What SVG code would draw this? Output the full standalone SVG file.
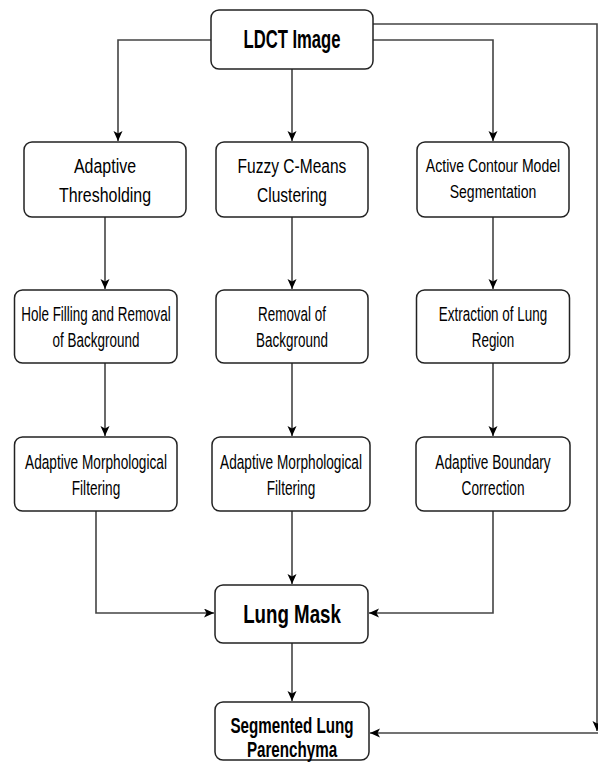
<svg xmlns="http://www.w3.org/2000/svg" width="598" height="762" viewBox="0 0 598 762">
<style>
.box{fill:#fff;stroke:#222;stroke-width:1.5}
.t{font-family:"Liberation Sans",Arial,sans-serif;text-anchor:middle;fill:#000}
.r1{font-size:21px}
.r2{font-size:19.5px}
.b{font-weight:bold}
.c{fill:none;stroke:#444;stroke-width:1.6}
</style>
<defs>
<marker id="ah" markerUnits="userSpaceOnUse" markerWidth="11" markerHeight="10" refX="10" refY="4.5" orient="auto">
<path d="M0,0 L10,4.5 L0,9 L2.5,4.5 z" fill="#000"/>
</marker>
</defs>
<g id="connectors">
<path class="c" d="M211,40 H118 V141" marker-end="url(#ah)"/>
<path class="c" d="M292,69 V141" marker-end="url(#ah)"/>
<path class="c" d="M373,40 H493 V141" marker-end="url(#ah)"/>
<path class="c" d="M373,24 H597 V731" marker-end="url(#ah)"/>
<path class="c" d="M598,733 H370" marker-end="url(#ah)"/>
<path class="c" d="M105,217 V289" marker-end="url(#ah)"/>
<path class="c" d="M105,363 V436" marker-end="url(#ah)"/>
<path class="c" d="M96,511 V613 H214" marker-end="url(#ah)"/>
<path class="c" d="M292,217 V289" marker-end="url(#ah)"/>
<path class="c" d="M292,363 V436" marker-end="url(#ah)"/>
<path class="c" d="M292,511 V584" marker-end="url(#ah)"/>
<path class="c" d="M493,217 V289" marker-end="url(#ah)"/>
<path class="c" d="M493,363 V436" marker-end="url(#ah)"/>
<path class="c" d="M493,511 V613 H369" marker-end="url(#ah)"/>
<path class="c" d="M292,643 V701" marker-end="url(#ah)"/>
</g>
<g id="ldct">
<rect class="box" x="211" y="10" width="162" height="59" rx="8"/>
<text class="t b" font-size="26" transform="translate(292,48) scale(0.64,1)">LDCT Image</text>
</g>
<g id="adaptive-thresholding">
<rect class="box" x="24" y="142" width="162" height="75" rx="8"/>
<text class="t r1" transform="translate(105,173) scale(0.76,1)">Adaptive</text>
<text class="t r1" transform="translate(105,202) scale(0.76,1)">Thresholding</text>
</g>
<g id="fuzzy-c-means">
<rect class="box" x="216" y="142" width="152" height="75" rx="8"/>
<text class="t r1" transform="translate(292,173) scale(0.74,1)">Fuzzy C-Means</text>
<text class="t r1" transform="translate(292,202) scale(0.74,1)">Clustering</text>
</g>
<g id="active-contour">
<rect class="box" x="417" y="142" width="152" height="75" rx="8"/>
<text class="t" font-size="19" transform="translate(493,172) scale(0.74,1)">Active Contour Model</text>
<text class="t" font-size="19" transform="translate(493,198) scale(0.74,1)">Segmentation</text>
</g>
<g id="hole-filling">
<rect class="box" x="14.5" y="290" width="162.5" height="73" rx="8"/>
<text class="t r2" transform="translate(96,321) scale(0.69,1)">Hole Filling and Removal</text>
<text class="t r2" transform="translate(96,347) scale(0.69,1)">of Background</text>
</g>
<g id="removal-background">
<rect class="box" x="216" y="290" width="152" height="73" rx="8"/>
<text class="t r2" transform="translate(292,321) scale(0.69,1)">Removal of</text>
<text class="t r2" transform="translate(292,347) scale(0.69,1)">Background</text>
</g>
<g id="extraction-lung">
<rect class="box" x="416.5" y="290" width="153" height="73" rx="8"/>
<text class="t r2" transform="translate(493,321) scale(0.69,1)">Extraction of Lung</text>
<text class="t r2" transform="translate(493,347) scale(0.69,1)">Region</text>
</g>
<g id="morph-1">
<rect class="box" x="14.5" y="437" width="162.5" height="74" rx="8"/>
<text class="t r2" transform="translate(96,469) scale(0.7,1)">Adaptive Morphological</text>
<text class="t r2" transform="translate(96,495) scale(0.7,1)">Filtering</text>
</g>
<g id="morph-2">
<rect class="box" x="212" y="437" width="158" height="74" rx="8"/>
<text class="t r2" transform="translate(291,469) scale(0.7,1)">Adaptive Morphological</text>
<text class="t r2" transform="translate(291,495) scale(0.7,1)">Filtering</text>
</g>
<g id="boundary-correction">
<rect class="box" x="416" y="437" width="154" height="74" rx="8"/>
<text class="t r2" transform="translate(493,469) scale(0.7,1)">Adaptive Boundary</text>
<text class="t r2" transform="translate(493,495) scale(0.7,1)">Correction</text>
</g>
<g id="lung-mask">
<rect class="box" x="215" y="585" width="153" height="58" rx="8"/>
<text class="t b" font-size="26" transform="translate(292,623) scale(0.72,1)">Lung Mask</text>
</g>
<g id="segmented-parenchyma">
<rect class="box" x="215" y="702" width="154" height="58" rx="8"/>
<text class="t b" font-size="22" transform="translate(292,733) scale(0.69,1)">Segmented Lung</text>
<text class="t b" font-size="22" transform="translate(292,757) scale(0.69,1)">Parenchyma</text>
</g>
</svg>
